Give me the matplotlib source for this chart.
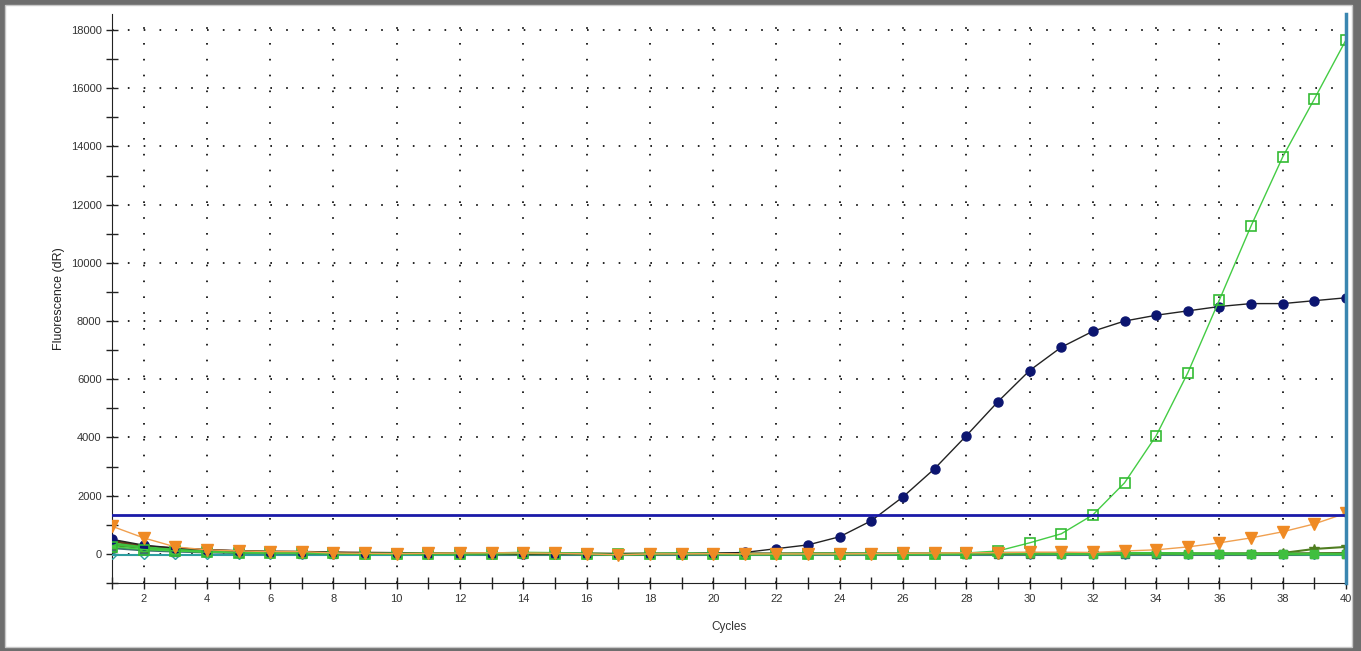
import numpy as np
import matplotlib
matplotlib.use("Agg")
import matplotlib.pyplot as plt
from matplotlib.patches import Rectangle
from matplotlib.ticker import MultipleLocator

plt.rcParams['font.family'] = ['Liberation Sans', 'DejaVu Sans']

cycles = np.arange(1, 41)

# amplification curves (dR), one value per cycle
navy = [500, 300, 200, 150, 100, 80, 80, 50, 30, 20,
        10, 10, 10, 0, 0, -10, 0, 0, 0, 20,
        50, 180, 310, 590, 1140, 1960, 2930, 4060, 5230, 6300,
        7100, 7650, 8000, 8200, 8350, 8500, 8600, 8600, 8700, 8800]
green = [250, 150, 100, 60, 40, 30, 30, 20, 10, 10,
         0, 0, 10, 20, 10, 0, -20, 0, 0, 10,
         -20, -10, 0, 0, 0, 10, 10, 30, 100, 380,
         690, 1340, 2440, 4060, 6220, 8730, 11270, 13640, 15630, 17660]
orange = [950, 550, 240, 140, 100, 80, 80, 30, 20, 10,
          20, 30, 40, 30, 20, 0, -30, 0, 0, 10,
          0, 0, 0, 0, 10, 20, 30, 40, 40, 60,
          60, 50, 100, 140, 240, 380, 550, 760, 1030, 1400]
olive = [300, 200, 120, 80, 60, 50, 40, 30, 20, 10,
         10, 0, 0, 10, 0, 0, -10, -10, 0, 0,
         0, 0, 10, 10, 0, -10, 0, 0, 0, 10,
         10, 20, 20, 10, 0, 0, 10, 30, 170, 240]
teal = [-30, -30, -30, -30, -30, -30, -30, -30, -30, -30,
        -30, -30, -30, -30, -30, -30, -30, -30, -30, -30,
        -30, -30, -30, -30, -30, -30, -30, -30, -30, -30,
        -30, -30, -30, -30, -30, -30, -30, -30, -30, -30]
slate = [200, 120, 80, 50, 30, 20, 10, 10, 0, 0,
         0, 0, 0, 0, 0, 0, 0, 0, 0, 0,
         0, 0, 0, 0, 0, 0, 0, 0, 0, 0,
         0, 0, 0, 0, -10, -10, -20, -20, -10, -10]
brown = [450, 250, 180, 120, 90, 70, 60, 40, 30, 20,
         10, 10, 0, 0, 0, 0, -10, 0, 0, 0,
         0, 0, 0, 0, 0, 0, 0, 0, 0, 0,
         0, 0, 0, 0, 0, 0, 0, 0, 10, 20]
lgreen = [350, 220, 140, 90, 70, 50, 40, 20, 10, 10,
          0, 0, 10, 30, 20, 0, -20, 0, 10, 0,
          -10, -10, 0, 0, 0, 0, 0, 10, 30, 20,
          10, 10, 20, 20, 10, 10, 0, 0, 0, 0]

threshold = 1340
xticks = list(range(2, 41, 2))
yticks = list(range(0, 18001, 2000))

fig = plt.figure(figsize=(13.61, 6.51), dpi=100)
fig.patch.set_facecolor('#6e6e6e')
fig.patches.append(Rectangle((5 / 1361, 4 / 651), 1347 / 1361, 642 / 651,
                             transform=fig.transFigure, facecolor='white',
                             edgecolor='#c8c8c8', lw=1, zorder=-10))

ax = fig.add_axes([112 / 1361, 1 - 583 / 651, 1234 / 1361, 569 / 651])
ax.set_facecolor('white')

# small background curves first
ax.plot(cycles, teal, color='#2e9ea0', lw=1.5, marker='D', ms=4,
        mfc='none', mec='#2e9ea0', zorder=3)
ax.plot(cycles, slate, color='#3d6f70', lw=1.5, marker='s', ms=6,
        mfc='#3d6f70', mec='#3d6f70', zorder=3)
ax.plot(cycles, brown, color='#6b3a1c', lw=2, marker='o', ms=4,
        mfc='#3a1a0a', mec='#3a1a0a', zorder=3)
ax.plot(cycles, olive, color='#4f7d20', lw=1.5, marker='*', ms=7,
        mfc='#4f7d20', mec='#4f7d20', zorder=3)
ax.plot(cycles, lgreen, color='#3fbf3f', lw=2, marker='s', ms=6,
        mfc='#3fbf3f', mec='#3fbf3f', zorder=3)

ax.plot(cycles, navy, color='#222222', lw=1, marker='o', ms=6.5,
        mfc='#0c1570', mec='#0c1570', zorder=5)
ax.plot(cycles, green, color='#44cc44', lw=1, marker='s', ms=7,
        mfc='none', mec='#33bb33', mew=1.2, zorder=5)
ax.plot(cycles, orange, color='#f0a050', lw=1, marker='v', ms=8,
        mfc='#ef8a24', mec='#ef8a24', zorder=6)

ax.axhline(threshold, color='#1a1aa8', lw=2, zorder=7)
ax.axvline(40, color='#3a86b0', lw=2.5, zorder=8, clip_on=False)

ax.set_xlim(1, 40)
ax.set_ylim(-1000, 18550)
ax.set_xticks(xticks)
ax.set_yticks(yticks)
ax.xaxis.set_minor_locator(MultipleLocator(1))
ax.yaxis.set_minor_locator(MultipleLocator(1000))
ax.tick_params(which='both', direction='inout', length=8, width=1,
               labelsize=8, labelcolor='#333333', color='#222222')
ax.tick_params(axis='x', pad=4)
ax.grid(True, which='major', color='black', lw=1.2, linestyle=(0, (1, 8.5)))
ax.set_axisbelow(True)

for side in ['top', 'right']:
    ax.spines[side].set_visible(False)
ax.spines['left'].set_color('#222222')
ax.spines['bottom'].set_color('#222222')

ax.set_xlabel('Cycles', fontsize=8.5, color='#333333', labelpad=12)
ax.set_ylabel('Fluorescence (dR)', fontsize=9, color='#222222', labelpad=4)

fig.savefig('out.png', dpi=100, facecolor=fig.get_facecolor())
